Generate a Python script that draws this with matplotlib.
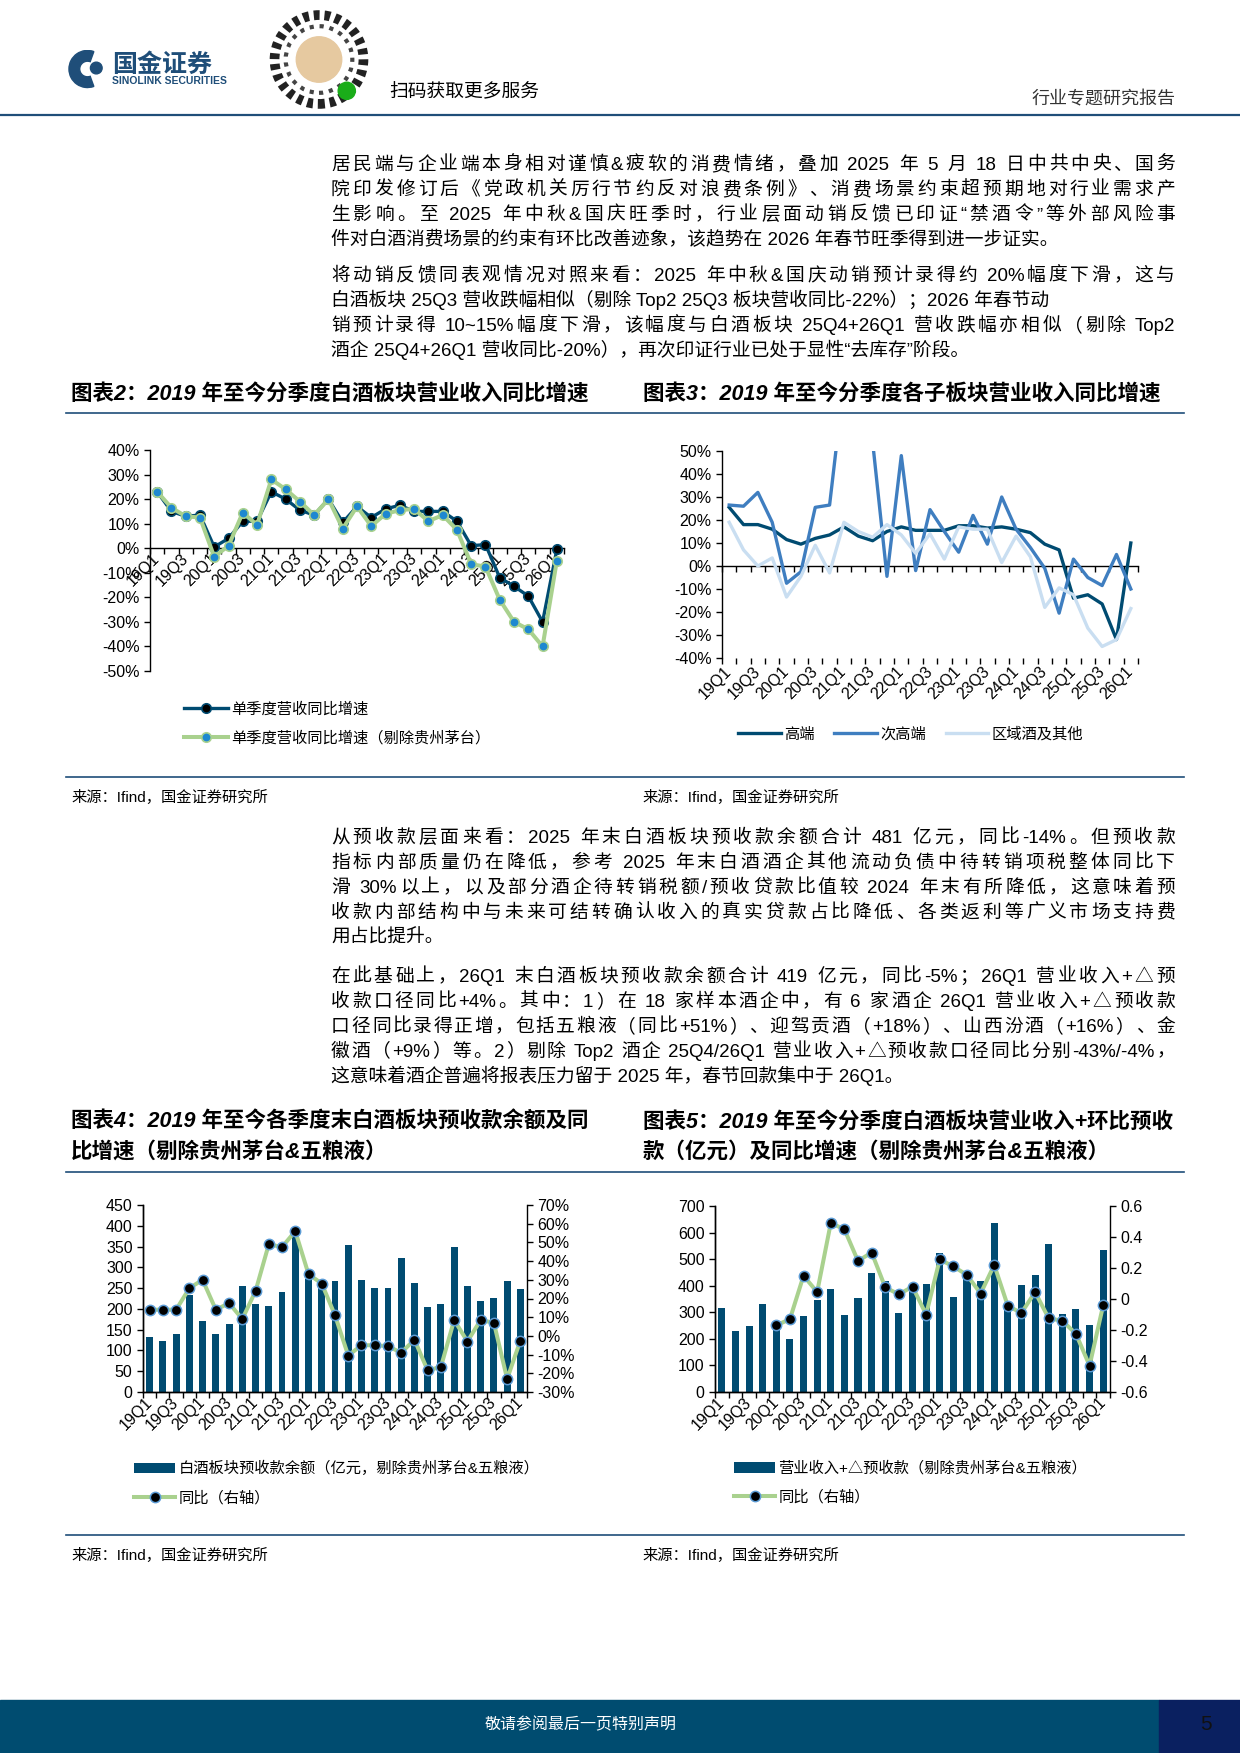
#!/usr/bin/env python3
"""
plot.py - page 5 of the baijiu sector report: body text + four quarterly charts.
"""

import re

import numpy as np
import matplotlib
matplotlib.use("Agg")          # headless
import matplotlib.pyplot as plt
import matplotlib.ticker as ticker
from matplotlib.font_manager import FontProperties
from matplotlib.lines import Line2D
from matplotlib.patches import Rectangle, Circle, Wedge

plt.rcParams["font.family"] = ["Liberation Sans", "Noto Sans CJK SC", "DejaVu Sans"]
plt.rcParams["axes.unicode_minus"] = False

# ── page geometry (pixels at dpi=100) ─────────────────────────────────────────
W, H = 1240, 1753
TICK_FS = 11.5

# ── colour palette ────────────────────────────────────────────────────────────
NAVY   = "#004B71"   # 高端 / bars / 单季度营收
MID    = "#3F7EC0"   # 次高端
LIGHT  = "#C9DEF1"   # 区域酒及其他
GREEN  = "#A9D18E"   # 剔除茅台 / 同比 line
DOT    = "#1E88D0"   # marker fill on the green series
EDGE   = "#5B9BD5"   # marker edge on chart 4/5
RULE   = "#1F4E79"   # horizontal rules
FOOT   = "#004C70"
FOOT2  = "#0A2060"

# ── data ──────────────────────────────────────────────────────────────────────
QUARTERS = ["19Q1", "19Q2", "19Q3", "19Q4", "20Q1", "20Q2", "20Q3", "20Q4",
            "21Q1", "21Q2", "21Q3", "21Q4", "22Q1", "22Q2", "22Q3", "22Q4",
            "23Q1", "23Q2", "23Q3", "23Q4", "24Q1", "24Q2", "24Q3", "24Q4",
            "25Q1", "25Q2", "25Q3", "25Q4", "26Q1"]

# chart 2 (%)
GROWTH_ALL = [23, 15, 13, 13.5, 0.5, 4, 11, 11, 23, 20, 15.5, 13.5, 20, 10.5,
              17, 12.5, 16, 17.5, 15, 15, 15, 11, 1, 1.5, -12, -15.5, -19.5,
              -30, -0.5]
GROWTH_EX_MOUTAI = [23, 16.5, 13, 12.5, -3.5, 1, 14.5, 9.5, 28, 24, 19, 13.5,
                    20, 8, 17, 9, 14, 15.5, 16, 11, 13.5, 7.5, -6.5, -7.5,
                    -21, -30, -33, -40, -5]

# chart 3 (%)
HIGH_END = [25.5, 18, 18, 16, 11.5, 9.5, 12, 13.5, 17, 13, 11, 15, 17, 15.5,
            15.5, 15.5, 17.5, 17.5, 16.5, 17, 16, 14.5, 9.5, 7, -14, -12.5,
            -16.5, -32, 10]
SUB_HIGH = [26.5, 26, 32, 19, -7.5, -2.5, 25.5, 26.5, 80, 100, 54, -4.5, 48,
            -2, 24.5, 15, 6, 22, 9.5, 30, 16, 8, -1, -20.5, 3, -5, -8.5, 5, -10]
REGIONAL = [19, 7, 0, 3.5, -13.5, -4.5, 9, -3, 19, 15, 12.5, 18, 13.5, 5.5, 14,
            3, 17, 16, 16, 1.5, 13, 4, -18, -9.5, -12.5, -27, -35, -32, -18.5]

# chart 4: 预收款余额 (亿元) + 同比 (%)
ADV_BAL = [133, 122, 140, 233, 172, 140, 164, 254, 212, 207, 241, 388, 272,
           254, 267, 354, 269, 251, 251, 323, 263, 205, 211, 348, 255, 220,
           226, 267, 248]
ADV_YOY = [14, 14, 14, 25.5, 30, 14, 17.5, 9, 24, 49, 47.5, 56, 33, 28, 11,
           -10.5, -5, -5, -5.5, -9, -2, -18.5, -16.5, 8.5, -3, 8.5, 7, -23, -2.5]

# chart 5: 营业收入+△预收款 (亿元) + 同比 (ratio)
REV_ADV = [317, 230, 250, 332, 250, 200, 287, 345, 389, 289, 355, 449, 418,
           296, 395, 405, 523, 359, 433, 419, 637, 314, 404, 439, 558, 295,
           314, 252, 533]
REV_YOY = [np.nan, np.nan, np.nan, np.nan, -0.17, -0.13, 0.15, 0.045, 0.49,
           0.45, 0.245, 0.30, 0.075, 0.03, 0.08, -0.10, 0.255, 0.21, 0.155,
           0.035, 0.22, -0.045, -0.09, 0.045, -0.125, -0.14, -0.225, -0.43,
           -0.04]

# ── body text ─────────────────────────────────────────────────────────────────
PARA_1 = [
    "居民端与企业端本身相对谨慎&疲软的消费情绪，叠加 2025 年 5 月 18 日中共中央、国务",
    "院印发修订后《党政机关厉行节约反对浪费条例》、消费场景约束超预期地对行业需求产",
    "生影响。至 2025 年中秋&国庆旺季时，行业层面动销反馈已印证“禁酒令”等外部风险事",
    "件对白酒消费场景的约束有环比改善迹象，该趋势在 2026 年春节旺季得到进一步证实。",
]
PARA_2 = [
    "将动销反馈同表观情况对照来看：2025 年中秋&国庆动销预计录得约 20%幅度下滑，这与",
    "白酒板块 25Q3 营收跌幅相似（剔除 Top2 25Q3 板块营收同比-22%）；2026 年春节动",
    "销预计录得 10~15%幅度下滑，该幅度与白酒板块 25Q4+26Q1 营收跌幅亦相似（剔除 Top2",
    "酒企 25Q4+26Q1 营收同比-20%），再次印证行业已处于显性“去库存”阶段。",
]
PARA_3 = [
    "从预收款层面来看：2025 年末白酒板块预收款余额合计 481 亿元，同比-14%。但预收款",
    "指标内部质量仍在降低，参考 2025 年末白酒酒企其他流动负债中待转销项税整体同比下",
    "滑 30%以上，以及部分酒企待转销税额/预收贷款比值较 2024 年末有所降低，这意味着预",
    "收款内部结构中与未来可结转确认收入的真实贷款占比降低、各类返利等广义市场支持费",
    "用占比提升。",
]
PARA_4 = [
    "在此基础上，26Q1 末白酒板块预收款余额合计 419 亿元，同比-5%；26Q1 营业收入+△预",
    "收款口径同比+4%。其中：1）在 18 家样本酒企中，有 6 家酒企 26Q1 营业收入+△预收款",
    "口径同比录得正增，包括五粮液（同比+51%）、迎驾贡酒（+18%）、山西汾酒（+16%）、金",
    "徽酒（+9%）等。2）剔除 Top2 酒企 25Q4/26Q1 营业收入+△预收款口径同比分别-43%/-4%，",
    "这意味着酒企普遍将报表压力留于 2025 年，春节回款集中于 26Q1。",
]

SOURCE = "来源：Ifind，国金证券研究所"
TOKEN_RE = re.compile(r"[A-Za-z0-9%+\-./~&]+|\s+|.")


def fx(x):
    return x / W


def fy(y):
    return 1 - y / H


def px_rect(left, top, right, bottom):
    return [fx(left), fy(bottom), (right - left) / W, (bottom - top) / H]


def hline(fig, y, x0=66, x1=1184, lw=1.2, color=RULE):
    fig.add_artist(Line2D([fx(x0), fx(x1)], [fy(y), fy(y)],
                          transform=fig.transFigure, color=color, lw=lw))


# ── text helpers ──────────────────────────────────────────────────────────────

def text_line(fig, renderer, s, y, fp, x0=331, x1=1175, justify=True):
    """Draw one body line; full lines are spread to both margins."""
    if not justify:
        fig.text(fx(x0), fy(y), s, fontproperties=fp, va="baseline")
        return
    toks = TOKEN_RE.findall(s)
    space = fp.get_size_in_points() * 0.3
    widths = [space if t.isspace() else
              renderer.get_text_width_height_descent(t, fp, ismath=False)[0]
              for t in toks]
    gap = (x1 - x0 - sum(widths)) / max(len(toks) - 1, 1)
    x = x0
    for t, w in zip(toks, widths):
        if not t.isspace():
            fig.text(fx(x), fy(y), t, fontproperties=fp, va="baseline")
        x += w + gap


def paragraph(fig, renderer, lines, y0, ragged=None, step=24.9):
    fp = FontProperties(family=["Liberation Sans", "Noto Sans CJK SC"], size=13.5)
    ragged = ragged if ragged is not None else (len(lines) - 1,)
    for i, s in enumerate(lines):
        text_line(fig, renderer, s, y0 + 7 + i * step, fp, justify=i not in ragged)


def chart_title(fig, lines, x, y0, step=31):
    for i, s in enumerate(lines):
        fig.text(fx(x), fy(y0 + i * step), s, fontsize=15.5, fontweight="bold",
                 fontstyle="italic", va="center")


# ── axis helpers ──────────────────────────────────────────────────────────────

def category_axis(ax, pad=4):
    n = len(QUARTERS)
    x = np.arange(n)
    ax.set_xlim(-0.5, n - 0.5)
    ax.set_xticks(x[::2], labels=QUARTERS[::2])
    ax.set_xticks(np.arange(n + 1) - 0.5, minor=True)
    ax.tick_params(axis="x", which="major", length=0, pad=pad, labelsize=TICK_FS)
    ax.tick_params(axis="x", which="minor", length=4, width=1, direction="out")
    for lab in ax.get_xticklabels():
        lab.set(rotation=45, ha="right", va="center", rotation_mode="anchor")


def style_spines(ax, right=False):
    ax.spines["top"].set_visible(False)
    ax.spines["right"].set_visible(right)
    for sp in ax.spines.values():
        sp.set_linewidth(1.0)
    ax.tick_params(axis="y", length=4, width=1, labelsize=TICK_FS)


pct = ticker.FuncFormatter(lambda v, _: f"{v:.0f}%")


def ratio_fmt(v, _):
    s = f"{v:.1f}"
    return "0" if s in ("0.0", "-0.0") else s


# ── Chart 2: sector yoy ───────────────────────────────────────────────────────

def plot_chart2(fig):
    ax = fig.add_axes(px_rect(150, 450, 564, 671))
    x = np.arange(len(QUARTERS))
    l1, = ax.plot(x, GROWTH_ALL, color=NAVY, lw=2.4, marker="o", ms=6.8,
                  mfc="black", mec=NAVY, mew=1.2, zorder=3)
    l2, = ax.plot(x, GROWTH_EX_MOUTAI, color=GREEN, lw=2.9, marker="o", ms=6.8,
                  mfc=DOT, mec=GREEN, mew=1.2, zorder=4)
    ax.set_ylim(-50, 40)
    ax.set_yticks(np.arange(-50, 41, 10))
    ax.yaxis.set_major_formatter(pct)
    style_spines(ax)
    ax.spines["bottom"].set_position(("data", 0))
    category_axis(ax, pad=6)
    fig.legend([l1, l2], ["单季度营收同比增速", "单季度营收同比增速（剔除贵州茅台）"],
               loc="upper left", bbox_to_anchor=(fx(184), fy(702)),
               frameon=False, fontsize=11, handlelength=2.9, handletextpad=0.2,
               labelspacing=0.95, borderpad=0, borderaxespad=0)


# ── Chart 3: sub-segment yoy ──────────────────────────────────────────────────

def plot_chart3(fig):
    ax = fig.add_axes(px_rect(722, 451, 1138, 658))
    x = np.arange(len(QUARTERS))
    series = [("高端", HIGH_END, NAVY), ("次高端", SUB_HIGH, MID),
              ("区域酒及其他", REGIONAL, LIGHT)]
    handles = []
    for name, vals, col in series:
        ln, = ax.plot(x, vals, color=col, lw=2.4, label=name)
        handles.append(ln)
    ymin, ymax = -40, 50
    ax.set_ylim(ymin, ymax)
    ax.set_yticks(np.arange(ymin, ymax + 1, 10))
    ax.yaxis.set_major_formatter(pct)
    style_spines(ax)
    ax.spines["bottom"].set_visible(False)
    category_axis(ax, pad=8)
    # zero line with the category tick marks, labels stay at the bottom
    zero = ax.secondary_xaxis((0 - ymin) / (ymax - ymin))
    zero.set_xticks(np.arange(len(QUARTERS) + 1) - 0.5, labels=[])
    zero.tick_params(length=4, width=1, direction="out")
    zero.spines["bottom"].set_linewidth(1.0)
    fig.legend(handles, [h.get_label() for h in handles], loc="upper left",
               bbox_to_anchor=(fx(738), fy(727)), ncol=3, frameon=False,
               fontsize=11, handlelength=2.8, handletextpad=0.2,
               columnspacing=1.3, borderpad=0, borderaxespad=0)


# ── Chart 4 / 5: bars + yoy line on right axis ───────────────────────────────

def plot_bar_line(fig, rect, bars, yoy, left_lim, left_step, right_lim,
                  right_step, right_fmt, labels, legend_xy):
    ax = fig.add_axes(rect)
    x = np.arange(len(QUARTERS))
    bc = ax.bar(x, bars, width=0.52, color=NAVY, zorder=2)
    ax.set_ylim(*left_lim)
    ax.set_yticks(np.arange(left_lim[0], left_lim[1] + 1, left_step))
    style_spines(ax)
    category_axis(ax, pad=6)

    ax2 = ax.twinx()
    ln, = ax2.plot(x, yoy, color=GREEN, lw=2.9, marker="o", ms=7.4,
                   mfc="black", mec=EDGE, mew=1.1)
    ax2.set_ylim(*right_lim)
    ax2.set_yticks(np.arange(right_lim[0], right_lim[1] + right_step / 2,
                             right_step))
    ax2.yaxis.set_major_formatter(right_fmt)
    ax2.spines["top"].set_visible(False)
    for sp in ax2.spines.values():
        sp.set_linewidth(1.0)
    ax2.tick_params(axis="y", length=4, width=1, labelsize=TICK_FS)

    fig.legend([bc, ln], labels, loc="upper left",
               bbox_to_anchor=(fx(legend_xy[0]), fy(legend_xy[1])),
               frameon=False, fontsize=11, handlelength=2.7, handletextpad=0.2,
               labelspacing=0.95, borderpad=0, borderaxespad=0)


# ── page furniture ────────────────────────────────────────────────────────────

def header(fig):
    # logo mark
    lg = fig.add_axes(px_rect(68, 49, 107, 89))
    lg.set_xlim(-1, 1)
    lg.set_ylim(-1, 1)
    lg.set_aspect("equal")
    lg.axis("off")
    lg.add_patch(Wedge((0, 0), 0.95, 70, 290, width=0.55, color=RULE))
    lg.add_patch(Circle((0.45, 0.05), 0.3, color=RULE))
    fig.text(fx(112), fy(65), "国金证券", fontsize=18, fontweight="bold",
             color=RULE, va="center", family=["Noto Sans CJK SC"])
    fig.text(fx(112), fy(81), "SINOLINK SECURITIES", fontsize=7.5,
             fontweight="bold", color=RULE, va="center")

    # QR code placeholder
    qr = fig.add_axes(px_rect(268, 9, 370, 110))
    qr.set_xlim(-1, 1)
    qr.set_ylim(-1, 1)
    qr.set_aspect("equal")
    qr.axis("off")
    qr.add_patch(Circle((0, 0), 0.88, fill=False, ec="#222222", lw=7,
                        ls=(0, (0.6, 0.5))))
    qr.add_patch(Circle((0, 0), 0.66, fill=False, ec="#444444", lw=3,
                        ls=(0, (1, 1.4))))
    qr.add_patch(Circle((0, 0), 0.45, color="#E6C9A0"))
    qr.add_patch(Circle((0.55, -0.62), 0.17, color="#1AAD19"))

    fig.text(fx(389), fy(92), "扫码获取更多服务", fontsize=13.5, va="center")
    fig.text(fx(1176), fy(100), "行业专题研究报告", fontsize=13, color="#333333",
             va="center", ha="right")
    hline(fig, 115, 0, W, lw=1.6)


def footer(fig):
    fig.add_artist(Rectangle((0, 0), fx(1159), 53 / H, transform=fig.transFigure,
                             color=FOOT, zorder=0))
    fig.add_artist(Rectangle((fx(1159), 0), 1 - fx(1159), 53 / H,
                             transform=fig.transFigure, color=FOOT2, zorder=0))
    fig.text(fx(581), fy(1725), "敬请参阅最后一页特别声明", fontsize=11.5,
             color="white", ha="center", va="center")
    fig.text(fx(1206), fy(1725), "5", fontsize=15, color="#111111",
             ha="center", va="center")


def main() -> None:
    fig = plt.figure(figsize=(W / 100, H / 100), dpi=100)
    renderer = fig.canvas.get_renderer()

    header(fig)

    paragraph(fig, renderer, PARA_1, 163)
    paragraph(fig, renderer, PARA_2, 274, ragged=(1, 3))

    chart_title(fig, ["图表2：2019 年至今分季度白酒板块营业收入同比增速"], 71, 395)
    chart_title(fig, ["图表3：2019 年至今分季度各子板块营业收入同比增速"], 643, 395)
    hline(fig, 413)
    plot_chart2(fig)
    plot_chart3(fig)
    hline(fig, 777)
    fig.text(fx(71), fy(797), SOURCE, fontsize=11, va="center")
    fig.text(fx(642), fy(797), SOURCE, fontsize=11, va="center")

    paragraph(fig, renderer, PARA_3, 836)
    paragraph(fig, renderer, PARA_4, 975)

    chart_title(fig, ["图表4：2019 年至今各季度末白酒板块预收款余额及同",
                      "比增速（剔除贵州茅台&五粮液）"], 71, 1122)
    chart_title(fig, ["图表5：2019 年至今分季度白酒板块营业收入+环比预收",
                      "款（亿元）及同比增速（剔除贵州茅台&五粮液）"], 643, 1122)
    hline(fig, 1172)

    plot_bar_line(fig, px_rect(143, 1205, 527, 1392), ADV_BAL, ADV_YOY,
                  (0, 450), 50, (-30, 70), 10, pct,
                  ["白酒板块预收款余额（亿元，剔除贵州茅台&五粮液）", "同比（右轴）"],
                  (134, 1461))
    plot_bar_line(fig, px_rect(715, 1206, 1110, 1392), REV_ADV, REV_YOY,
                  (0, 700), 100, (-0.6, 0.6), 0.2, ticker.FuncFormatter(ratio_fmt),
                  ["营业收入+△预收款（剔除贵州茅台&五粮液）", "同比（右轴）"],
                  (734, 1461))

    hline(fig, 1535)
    fig.text(fx(71), fy(1555), SOURCE, fontsize=11, va="center")
    fig.text(fx(642), fy(1555), SOURCE, fontsize=11, va="center")

    footer(fig)

    fig.savefig("out.png", dpi=100)
    plt.close(fig)


if __name__ == "__main__":
    main()
